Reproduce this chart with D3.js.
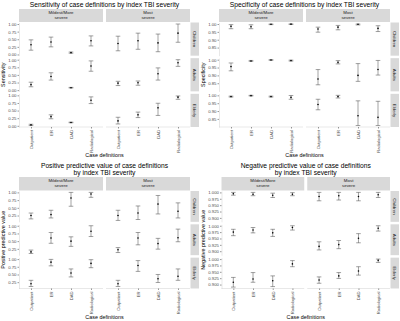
<!DOCTYPE html>
<html>
<head>
<meta charset="utf-8">
<script src="https://cdn.jsdelivr.net/npm/d3@7"></script>
<style>
body { margin: 0; background: #fff; }
text { font-family: "Liberation Sans", Arial, sans-serif; }
</style>
</head>
<body>
<script>
var definitions = ["Outpatient", "ER", "DAD", "Radiological"];
var severities = [["Mildest/More", "severe"], ["Most", "severe"]];
var ageGroups = ["Children", "Adults", "Elderly"];

// values are [severity][age group][case definition]
var sensEst = [
    [[0.32, 0.41, 0.06, 0.45], [0.18, 0.45, 0.08, 0.79], [0.03, 0.30, 0.11, 0.84]],
    [[0.36, 0.45, 0.38, 0.70], [0.23, 0.24, 0.54, 0.90], [0.16, 0.36, 0.59, 0.94]]
];
var sensLo = [
    [[0.14, 0.25, 0.04, 0.28], [0.11, 0.33, 0.07, 0.62], [0.01, 0.23, 0.10, 0.73]],
    [[0.12, 0.17, 0.09, 0.40], [0.15, 0.16, 0.33, 0.78], [0.06, 0.27, 0.34, 0.87]]
];
var sensHi = [
    [[0.48, 0.57, 0.08, 0.61], [0.26, 0.57, 0.09, 0.96], [0.05, 0.36, 0.12, 0.95]],
    [[0.60, 0.70, 0.67, 1.00], [0.29, 0.30, 0.73, 1.00], [0.28, 0.45, 0.74, 0.98]]
];

var specEst = [
    [[0.985, 0.983, 0.998, 0.999], [0.956, 0.992, 0.998, 0.994], [0.992, 0.998, 0.992, 0.987]],
    [[0.968, 0.980, 0.998, 0.972], [0.877, 0.983, 0.900, 0.937], [0.942, 0.992, 0.870, 0.860]]
];
var specLo = [
    [[0.970, 0.970, 0.996, 0.998], [0.929, 0.989, 0.996, 0.991], [0.989, 0.996, 0.989, 0.975]],
    [[0.948, 0.963, 0.994, 0.952], [0.840, 0.973, 0.862, 0.902], [0.908, 0.983, 0.808, 0.808]]
];
var specHi = [
    [[0.996, 0.995, 1.000, 1.000], [0.979, 0.995, 1.000, 0.997], [0.995, 1.000, 0.995, 0.999]],
    [[0.980, 0.991, 1.000, 0.989], [0.937, 0.994, 0.975, 0.995], [0.975, 1.000, 0.965, 0.962]]
];

var ppvEst = [
    [[0.25, 0.28, 0.82, 0.95], [0.15, 0.60, 0.50, 0.82], [0.20, 0.90, 0.55, 0.86]],
    [[0.25, 0.33, 0.62, 0.39], [0.22, 0.60, 0.42, 0.61], [0.20, 0.79, 0.36, 0.44]]
];
var ppvLo = [
    [[0.14, 0.17, 0.55, 0.84], [0.10, 0.43, 0.33, 0.65], [0.11, 0.78, 0.42, 0.72]],
    [[0.09, 0.12, 0.30, 0.17], [0.13, 0.38, 0.24, 0.48], [0.11, 0.60, 0.24, 0.31]]
];
var ppvHi = [
    [[0.33, 0.42, 1.00, 1.00], [0.21, 0.78, 0.64, 1.00], [0.31, 0.99, 0.68, 0.98]],
    [[0.42, 0.56, 0.90, 0.66], [0.29, 0.78, 0.59, 0.89], [0.31, 0.95, 0.50, 0.68]]
];

var npvEst = [
    [[0.995, 0.993, 0.989, 0.993], [0.975, 0.983, 0.972, 0.993], [0.909, 0.922, 0.915, 0.981]],
    [[0.984, 0.987, 0.984, 0.991], [0.919, 0.926, 0.951, 0.990], [0.918, 0.934, 0.953, 0.995]]
];
var npvLo = [
    [[0.989, 0.987, 0.980, 0.987], [0.961, 0.972, 0.958, 0.983], [0.890, 0.909, 0.892, 0.970]],
    [[0.967, 0.970, 0.967, 0.980], [0.905, 0.910, 0.933, 0.979], [0.905, 0.924, 0.937, 0.987]]
];
var npvHi = [
    [[1.000, 1.000, 0.997, 0.999], [0.986, 0.993, 0.986, 1.000], [0.928, 0.947, 0.934, 0.994]],
    [[1.000, 1.000, 1.000, 1.000], [0.937, 0.942, 0.969, 1.000], [0.930, 0.947, 0.970, 1.000]]
];

var sensTicks = [0, 0.25, 0.5, 0.75, 1];
var specTicks = [0.85, 0.9, 0.95, 1];
var ppvTicks = [0.25, 0.5, 0.75, 1];
var npvTicks = [0.9, 0.925, 0.95, 0.975, 1];

var svg = d3.select("body")
    .append("svg")
    .attr("width", 400)
    .attr("height", 321);

function drawChart(c) {
    var g = svg.append("g")
        .attr("transform", "translate(" + c.x + "," + c.y + ")");

    var right = 190;
    var colGap = 3;
    var rowGap = 2.5;
    var colW = (right - c.left - colGap) / 2;
    var rowH = (c.bottom - c.top - 2 * rowGap) / 3;
    var mid = (c.left + right) / 2;

    c.title.forEach(function (t, i) {
        g.append("text")
            .attr("x", mid)
            .attr("y", c.titleY + i * 7)
            .attr("text-anchor", "middle")
            .attr("font-size", 6.7)
            .attr("fill", "#000")
            .text(t);
    });

    // y range from all interval ends, 5% expansion like ggplot
    var all = d3.merge(d3.merge(c.lo).concat(d3.merge(c.hi)));
    var ext = d3.extent(all);
    var pad = (ext[1] - ext[0]) * 0.05;

    for (var s = 0; s < 2; s++) {
        var x0 = c.left + s * (colW + colGap);
        var xScale = d3.scalePoint()
            .domain(definitions)
            .range([x0, x0 + colW])
            .padding(0.6);

        g.append("rect")
            .attr("x", x0)
            .attr("y", c.stripTop)
            .attr("width", colW)
            .attr("height", c.top - c.stripTop - 0.5)
            .attr("fill", "#d9d9d9");

        severities[s].forEach(function (t, i) {
            g.append("text")
                .attr("x", x0 + colW / 2)
                .attr("y", c.stripTop + 5.4 + i * 4.6)
                .attr("text-anchor", "middle")
                .attr("font-size", 4.4)
                .attr("fill", "#1a1a1a")
                .text(t);
        });

        for (var a = 0; a < 3; a++) {
            var y0 = c.top + a * (rowH + rowGap);
            var yScale = d3.scaleLinear()
                .domain([ext[0] - pad, ext[1] + pad])
                .range([y0 + rowH, y0]);

            if (s === 0) {
                var ya = g.append("g")
                    .attr("transform", "translate(" + x0 + ",0)")
                    .call(d3.axisLeft(yScale)
                        .tickValues(c.ticks)
                        .tickFormat(d3.format(c.fmt))
                        .tickSize(1.5)
                        .tickSizeOuter(0)
                        .tickPadding(1));
                ya.select(".domain").attr("stroke", "#d0d0d0").attr("stroke-width", 0.5);
                ya.selectAll(".tick line").attr("stroke", "#333").attr("stroke-width", 0.5);
                ya.selectAll(".tick text")
                    .attr("font-size", 4.3)
                    .attr("fill", "#4d4d4d")
                    .attr("font-family", "Liberation Sans, Arial, sans-serif");
            }

            if (a === 2) {
                var xa = g.append("g")
                    .attr("transform", "translate(0," + (y0 + rowH) + ")")
                    .call(d3.axisBottom(xScale)
                        .tickSize(1.5)
                        .tickSizeOuter(0)
                        .tickPadding(1));
                xa.select(".domain")
                    .attr("d", "M" + x0 + ",0H" + (x0 + colW))
                    .attr("stroke", "#d0d0d0")
                    .attr("stroke-width", 0.5);
                xa.selectAll(".tick line").attr("stroke", "#333").attr("stroke-width", 0.5);
                xa.selectAll(".tick text")
                    .attr("font-size", 4.2)
                    .attr("fill", "#4d4d4d")
                    .attr("font-family", "Liberation Sans, Arial, sans-serif")
                    .attr("text-anchor", "end")
                    .attr("transform", "rotate(-90)")
                    .attr("x", -3)
                    .attr("y", 0)
                    .attr("dy", "0.35em");
            }

            if (s === 1) {
                g.append("rect")
                    .attr("x", right + 0.5)
                    .attr("y", y0)
                    .attr("width", 8.5)
                    .attr("height", rowH)
                    .attr("fill", "#d9d9d9");
                g.append("text")
                    .attr("transform", "translate(" + (right + 4.75) + "," + (y0 + rowH / 2) + ") rotate(90)")
                    .attr("text-anchor", "middle")
                    .attr("dy", "0.35em")
                    .attr("font-size", 4.4)
                    .attr("fill", "#1a1a1a")
                    .text(ageGroups[a]);
            }

            var rows = definitions.map(function (d, i) {
                return { def: d, est: c.est[s][a][i], lo: c.lo[s][a][i], hi: c.hi[s][a][i] };
            });

            var bars = g.append("g")
                .attr("stroke", "#444")
                .attr("stroke-width", 0.5);

            bars.selectAll(".whisker")
                .data(rows)
                .enter()
                .append("line")
                .attr("x1", function (d) { return xScale(d.def); })
                .attr("x2", function (d) { return xScale(d.def); })
                .attr("y1", function (d) { return yScale(d.lo); })
                .attr("y2", function (d) { return yScale(d.hi); });

            ["lo", "hi"].forEach(function (k) {
                bars.selectAll(".cap-" + k)
                    .data(rows)
                    .enter()
                    .append("line")
                    .attr("x1", function (d) { return xScale(d.def) - 2.3; })
                    .attr("x2", function (d) { return xScale(d.def) + 2.3; })
                    .attr("y1", function (d) { return yScale(d[k]); })
                    .attr("y2", function (d) { return yScale(d[k]); });
            });

            g.selectAll(null)
                .data(rows)
                .enter()
                .append("circle")
                .attr("cx", function (d) { return xScale(d.def); })
                .attr("cy", function (d) { return yScale(d.est); })
                .attr("r", 0.8)
                .attr("fill", "#000");
        }
    }

    g.append("text")
        .attr("x", mid)
        .attr("y", c.xTitleY)
        .attr("text-anchor", "middle")
        .attr("font-size", 5.4)
        .attr("fill", "#000")
        .text("Case definitions");

    g.append("text")
        .attr("transform", "translate(4.5," + ((c.top + c.bottom) / 2) + ") rotate(-90)")
        .attr("text-anchor", "middle")
        .attr("font-size", 5.4)
        .attr("fill", "#000")
        .text(c.yTitle);
}

drawChart({
    x: 0, y: 0, left: 19, titleY: 6.5, stripTop: 9, top: 22.5, bottom: 127, xTitleY: 157,
    title: ["Sensitivity of case definitions by index TBI severity"],
    yTitle: "Sensitivity",
    est: sensEst, lo: sensLo, hi: sensHi, ticks: sensTicks, fmt: ".2f"
});

drawChart({
    x: 200, y: 0, left: 19, titleY: 6.5, stripTop: 9, top: 22.5, bottom: 127, xTitleY: 157,
    title: ["Specificity of case definitions by index TBI severity"],
    yTitle: "Specificity",
    est: specEst, lo: specLo, hi: specHi, ticks: specTicks, fmt: ".2f"
});

drawChart({
    x: 0, y: 160, left: 19, titleY: 8, stripTop: 17, top: 31, bottom: 128.5, xTitleY: 159,
    title: ["Positive predictive value of case definitions", "by index TBI severity"],
    yTitle: "Positive predictive value",
    est: ppvEst, lo: ppvLo, hi: ppvHi, ticks: ppvTicks, fmt: ".2f"
});

drawChart({
    x: 200, y: 160, left: 21.5, titleY: 8, stripTop: 17, top: 31, bottom: 128.5, xTitleY: 159,
    title: ["Negative predictive value of case definitions", "by index TBI severity"],
    yTitle: "Negative predictive value",
    est: npvEst, lo: npvLo, hi: npvHi, ticks: npvTicks, fmt: ".3f"
});
</script>
</body>
</html>
